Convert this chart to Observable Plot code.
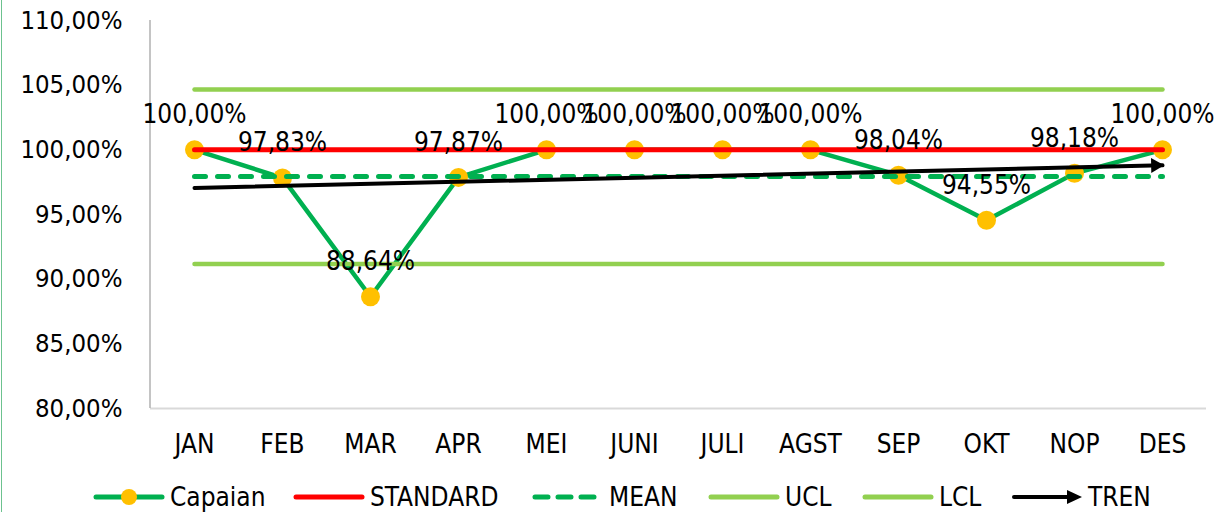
<!DOCTYPE html>
<html><head><meta charset="utf-8">
<script src="https://cdn.jsdelivr.net/npm/d3@7"></script>
<script src="https://cdn.jsdelivr.net/npm/@observablehq/plot@0.6"></script>
<style>
html,body{margin:0;padding:0;background:#fff;}
body{width:1229px;height:512px;overflow:hidden;position:relative;font-family:"DejaVu Sans Condensed","DejaVu Sans",sans-serif;}
#border{position:absolute;left:1px;top:0;width:1px;height:512px;background:#6cc28f;}
#chart svg{display:block;}
#legend{position:relative;height:50px;}
.item{position:absolute;top:0;height:50px;display:flex;align-items:center;font-size:26px;color:#000;white-space:nowrap;}
.item svg{margin-right:5px;display:block;}
</style></head><body>
<div id="border"></div>
<div id="chart"></div>
<div id="legend"></div>
<script>
// ---- data ----
const months = ["JAN","FEB","MAR","APR","MEI","JUNI","JULI","AGST","SEP","OKT","NOP","DES"];
const capaian = [100, 97.83, 88.64, 97.87, 100, 100, 100, 100, 98.04, 94.55, 98.18, 100];
const standardValue = 100;
const meanValue = 97.93;
const uclValue = 104.67;
const lclValue = 91.18;
const trendMonths = ["JAN", "DES"];
const trendValues = [97.05, 98.80];
const yTicks = [80, 85, 90, 95, 100, 105, 110];
const yTickLabels = ["80,00%","85,00%","90,00%","95,00%","100,00%","105,00%","110,00%"];
const seriesNames = ["Capaian","STANDARD","MEAN","UCL","LCL","TREN"];

// ---- build ----
const fmt = v => v.toFixed(2).replace(".", ",") + "%";
const rows = months.map((m, i) => ({month: m, value: capaian[i]}));
const constRows = (v) => months.map(m => ({month: m, value: v}));
const trendRows = trendMonths.map((m, i) => ({month: m, value: trendValues[i]}));

const GREEN = "#00b050", YELLOW = "#ffc000", RED = "#ff0000", LIGHT = "#92d050";

const leftAxisLine = (index, scales, values, dims) => {
  const ns = "http://www.w3.org/2000/svg";
  const l = document.createElementNS(ns, "line");
  l.setAttribute("x1", dims.marginLeft); l.setAttribute("x2", dims.marginLeft);
  l.setAttribute("y1", dims.marginTop); l.setAttribute("y2", dims.height - dims.marginBottom);
  l.setAttribute("stroke", "#b0b0b0"); l.setAttribute("stroke-width", 1.5);
  return l;
};

const chart = Plot.plot({
  width: 1229,
  height: 472,
  marginLeft: 150,
  marginRight: 23,
  marginTop: 20,
  marginBottom: 64,
  style: {fontFamily: '"DejaVu Sans Condensed","DejaVu Sans",sans-serif', fontSize: "25.5px", color: "#000", background: "#fff"},
  x: {type: "point", domain: months, padding: 0.5, label: null},
  y: {domain: [yTicks[0], yTicks[yTicks.length - 1]], label: null},
  marks: [
    Plot.ruleY([yTicks[0]], {stroke: "#d9d9d9", strokeWidth: 2}),
    leftAxisLine,
    Plot.axisY({ticks: yTicks, tickSize: 0, tickPadding: 28, tickFormat: d => yTickLabels[yTicks.indexOf(d)], label: null}),
    Plot.axisX({tickSize: 0, tickPadding: 26, label: null, fontSize: 26}),
    Plot.line(rows, {x: "month", y: "value", stroke: GREEN, strokeWidth: 4.5, strokeLinejoin: "round"}),
    Plot.dot(rows, {x: "month", y: "value", r: 9.5, fill: YELLOW, stroke: null}),
    Plot.line(constRows(standardValue), {x: "month", y: "value", stroke: RED, strokeWidth: 5, strokeLinecap: "round"}),
    Plot.line(constRows(meanValue), {x: "month", y: "value", stroke: GREEN, strokeWidth: 5, strokeLinecap: "round", strokeDasharray: "11,12"}),
    Plot.line(constRows(uclValue), {x: "month", y: "value", stroke: LIGHT, strokeWidth: 4.5, strokeLinecap: "round"}),
    Plot.line(constRows(lclValue), {x: "month", y: "value", stroke: LIGHT, strokeWidth: 4.5, strokeLinecap: "round"}),
    Plot.line(trendRows, {x: "month", y: "value", stroke: "#000", strokeWidth: 4, strokeLinecap: "round"}),
    Plot.dot(trendRows.slice(-1), {x: "month", y: "value", symbol: "triangle", r: 5.6, fill: "#000", stroke: null, rotate: 89, dx: -7}),
    Plot.text(rows, {x: "month", y: "value", text: d => fmt(d.value), dy: -26.5, lineAnchor: "bottom", fontSize: 26, fill: "#000"})
  ]
});
document.getElementById("chart").appendChild(chart);

// ---- legend ----
const legendLefts = [93, 293, 532, 708, 862, 1011];
const swatch = (name) => {
  const w = 72, h = 20, c = h / 2;
  let s = `<svg width="${w}" height="${h}" viewBox="0 0 ${w} ${h}">`;
  if (name === "Capaian") {
    s += `<line x1="3" x2="${w-3}" y1="${c}" y2="${c}" stroke="${GREEN}" stroke-width="5" stroke-linecap="round"/>`;
    s += `<circle cx="${w/2}" cy="${c}" r="8" fill="${YELLOW}"/>`;
  } else if (name === "STANDARD") {
    s += `<line x1="3" x2="${w-3}" y1="${c}" y2="${c}" stroke="${RED}" stroke-width="5" stroke-linecap="round"/>`;
  } else if (name === "MEAN") {
    s += `<line x1="3" x2="${w-3}" y1="${c}" y2="${c}" stroke="${GREEN}" stroke-width="5" stroke-linecap="round" stroke-dasharray="13,10"/>`;
  } else if (name === "UCL" || name === "LCL") {
    s += `<line x1="3" x2="${w-3}" y1="${c}" y2="${c}" stroke="${LIGHT}" stroke-width="5" stroke-linecap="round"/>`;
  } else if (name === "TREN") {
    s += `<line x1="3" x2="${w-14}" y1="${c}" y2="${c}" stroke="#000" stroke-width="4" stroke-linecap="round"/>`;
    s += `<path d="M${w-16},${c-7} L${w-1},${c} L${w-16},${c+7} Z" fill="#000"/>`;
  }
  return s + `</svg>`;
};
const legend = document.getElementById("legend");
seriesNames.forEach((name, i) => {
  const d = document.createElement("div");
  d.className = "item";
  d.style.left = legendLefts[i] + "px";
  d.innerHTML = swatch(name) + `<span>${name}</span>`;
  legend.appendChild(d);
});
</script>
</body></html>
